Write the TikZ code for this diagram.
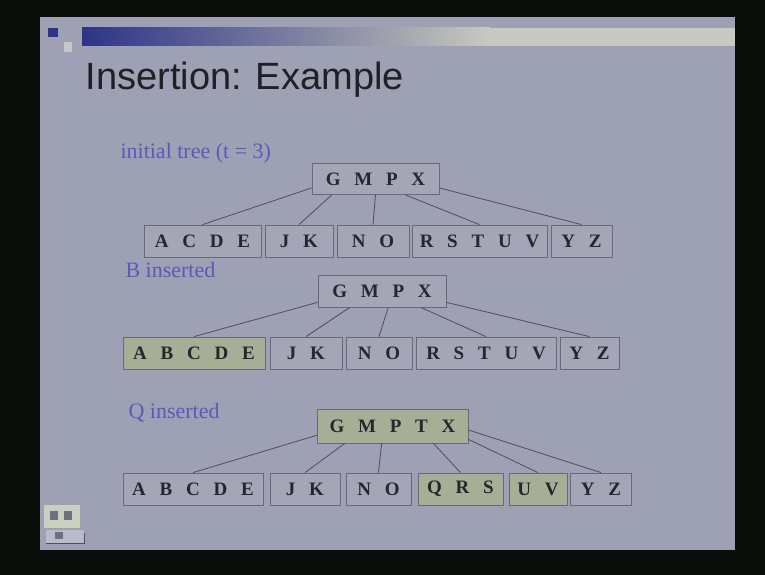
\documentclass[tikz,border=0pt]{standalone}
\usepackage{fontspec}
\setmainfont{Liberation Serif}
\newfontfamily\titlefont{Liberation Sans}
\newfontfamily\keyfont[WordSpace=2.9]{Liberation Serif}
\definecolor{frameblack}{RGB}{10,12,10}
\definecolor{slidegrey}{RGB}{158,160,179}
\definecolor{slidenavy}{RGB}{45,52,135}
\definecolor{barmid}{RGB}{160,162,172}
\definecolor{barlight}{RGB}{200,201,192}
\definecolor{labelblue}{RGB}{90,90,188}
\definecolor{titleink}{RGB}{32,32,38}
\definecolor{keyink}{RGB}{38,38,46}
\definecolor{boxgrey}{RGB}{164,166,184}
\definecolor{boxline}{RGB}{105,105,120}
\definecolor{keygreen}{RGB}{166,175,150}
\definecolor{edgegrey}{RGB}{78,78,94}
\usetikzlibrary{positioning,calc}

\begin{document}
\begin{tikzpicture}[x=1pt,y=-1pt,
    keybox/.style={draw=boxline, fill=boxgrey, line width=0.8pt, inner sep=0pt,
        minimum height=32pt, text=keyink,
        font=\keyfont\bfseries\fontsize{19}{21}\selectfont},
    newkey/.style={fill=keygreen},
    treeedge/.style={draw=edgegrey, line width=0.8pt},
    steplabel/.style={anchor=base west, text=labelblue,
        font=\fontsize{22}{24}\selectfont}]
    \useasboundingbox (0,0) rectangle (765,575);
    % slide and frame
    \fill[frameblack] (0,0) rectangle (765,575);
    \fill[slidegrey] (40,17) rectangle (735,550);
    % title bar
    \fill[slidenavy] (48,28) rectangle (58,37);
    \fill[barmid!60!white] (64,42) rectangle (72,52);
    \shade[left color=slidenavy, right color=barmid] (82,28) rectangle (390,46);
    \shade[left color=barmid, right color=barlight] (390,28) rectangle (490,46);
    \fill[barlight] (490,28) rectangle (735,46);
    \node[anchor=base west, text=titleink, font=\titlefont\fontsize{38}{42}\selectfont]
        (title) at (82,90) {Insertion: Example};

    % initial tree
    \node[steplabel] (lab1) at (117,158) {initial tree (t = 3)};
    \node[keybox, minimum width=127pt, minimum height=31pt] (r1) at (375.5,179) {G M P X};
    \node[keybox, minimum width=117pt] (c11) at (202.5,241) {A C D E};
    \node[keybox, minimum width=68pt] (c12) at (299,241) {J K};
    \node[keybox, minimum width=72pt] (c13) at (373,241) {N O};
    \node[keybox, minimum width=135pt] (c14) at (479.5,241) {R S T U V};
    \node[keybox, minimum width=61pt] (c15) at (581.5,241) {Y Z};
    \draw[treeedge] (r1.188) -- (c11.north);
    \draw[treeedge] (r1.200) -- (c12.north);
    \draw[treeedge] (r1.south) -- (c13.north);
    \draw[treeedge] (r1.332) -- (c14.north);
    \draw[treeedge] (r1.352) -- (c15.north);

    % B inserted
    \node[steplabel] (lab2) at (122,277) {B inserted};
    \node[keybox, minimum width=128pt] (r2) at (382,291) {G M P X};
    \node[keybox, newkey, minimum width=142pt] (c21) at (194,353) {A B C D E};
    \node[keybox, minimum width=72pt] (c22) at (306,353) {J K};
    \node[keybox, minimum width=66pt] (c23) at (379,353) {N O};
    \node[keybox, minimum width=140pt] (c24) at (486,353) {R S T U V};
    \node[keybox, minimum width=59pt] (c25) at (589.5,353) {Y Z};
    \draw[treeedge] (r2.190) -- (c21.north);
    \draw[treeedge] (r2.207) -- (c22.north);
    \draw[treeedge] (r2.291) -- (c23.north);
    \draw[treeedge] (r2.337) -- (c24.north);
    \draw[treeedge] (r2.350) -- (c25.north);

    % Q inserted
    \node[steplabel] (lab3) at (125,418) {Q inserted};
    \node[keybox, newkey, minimum width=151pt, minimum height=34pt] (r3) at (392.5,426) {G M P T X};
    \node[keybox, minimum width=140pt] (c31) at (193,489) {A B C D E};
    \node[keybox, minimum width=70pt] (c32) at (305,489) {J K};
    \node[keybox, minimum width=65pt] (c33) at (378.5,489) {N O};
    \node[keybox, newkey, minimum width=85pt] (c34) at (460.5,489) {Q R S};
    \node[keybox, newkey, minimum width=58pt] (c35) at (538,489) {U V};
    \node[keybox, minimum width=61pt] (c36) at (601,489) {Y Z};
    \draw[treeedge] (r3.187) -- (c31.north);
    \draw[treeedge] (r3.200) -- (c32.north);
    \draw[treeedge] (r3.238) -- (c33.north);
    \draw[treeedge] (r3.337) -- (c34.north);
    \draw[treeedge] (r3.350) -- (c35.north);
    \draw[treeedge] (r3.357) -- (c36.north);

    % slide show buttons
    \fill[keygreen!60!white] (44,505) rectangle (80,528);
    \fill[edgegrey!60!slidegrey] (50,511) rectangle (58,520);
    \fill[edgegrey!60!slidegrey] (64,511) rectangle (72,520);
    \fill[boxgrey!75!white] (46,530) rectangle (84,543);
    \fill[edgegrey!60!slidegrey] (55,532) rectangle (63,539);
    \draw[edgegrey, line width=0.8pt] (46,543) -- (84,543) -- (84,533);
\end{tikzpicture}
\end{document}
